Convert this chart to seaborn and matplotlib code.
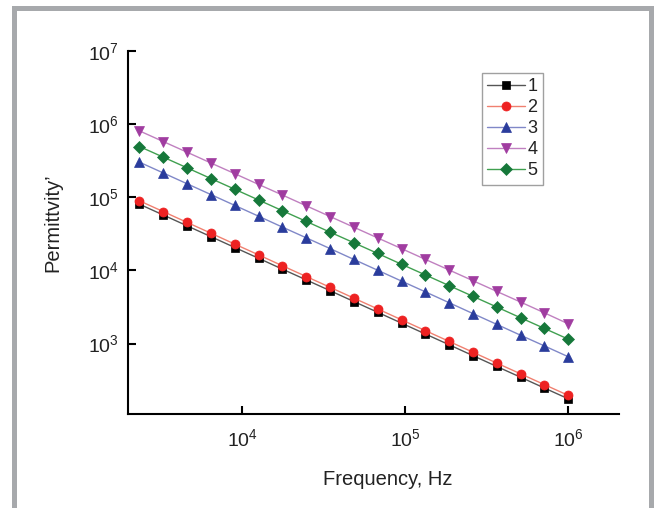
import matplotlib
matplotlib.use("Agg")
import matplotlib.pyplot as plt
import seaborn as sns
import pandas as pd
from matplotlib.patches import Rectangle
from matplotlib.ticker import NullLocator

# ---- data ----
frequency = [2340, 3280, 4590, 6430, 9000, 12600, 17600, 24700, 34600, 48400,
             67800, 94900, 133000, 186000, 260000, 364000, 510000, 714000, 1000000]
series_1 = [80000, 56900, 40500, 28800, 20500, 14600, 10400, 7400, 5270, 3750,
            2670, 1900, 1350, 962, 685, 487, 347, 247, 176]
series_2 = [89000, 63300, 45100, 32100, 22800, 16250, 11560, 8230, 5860, 4170,
            2970, 2110, 1500, 1070, 762, 542, 386, 275, 196]
series_3 = [300000, 213500, 152000, 108200, 77000, 54800, 39000, 27800, 19800, 14080,
            10020, 7130, 5080, 3610, 2570, 1830, 1300, 929, 661]
series_4 = [803000, 573000, 410000, 292000, 209000, 149000, 107000, 76100, 54300, 38800,
            27700, 19800, 14100, 10100, 7230, 5160, 3690, 2630, 1860]
series_5 = [491000, 351000, 251000, 179000, 128000, 91300, 65300, 46600, 33200, 23800,
            17000, 12100, 8650, 6180, 4420, 3160, 2250, 1610, 1150]
labels = ["1", "2", "3", "4", "5"]
x_ticks = [1e4, 1e5, 1e6]
y_ticks = [1e3, 1e4, 1e5, 1e6, 1e7]
x_label = "Frequency, Hz"
y_label = "Permittvity\u2019"

sns.set_style("ticks")
plt.rcParams["font.family"] = ["Liberation Sans", "DejaVu Sans"]
plt.rcParams["mathtext.fontset"] = "custom"
plt.rcParams["mathtext.rm"] = "Liberation Sans"
plt.rcParams["mathtext.it"] = "Liberation Sans:italic"
plt.rcParams["mathtext.bf"] = "Liberation Sans:bold"

fig = plt.figure(figsize=(6.54, 5.08), dpi=100)
ax = fig.add_axes([0.195, 0.1844, 0.7515, 0.7158])

styles = [
    dict(line="#555555", marker="s", face="#000000", size=5.5),
    dict(line="#f08070", marker="o", face="#ee2222", size=6.5),
    dict(line="#8088c8", marker="^", face="#2a3c9c", size=7),
    dict(line="#c080c0", marker="v", face="#a03ca0", size=7),
    dict(line="#40a050", marker="D", face="#16783a", size=6),
]
all_series = [series_1, series_2, series_3, series_4, series_5]
for lab, vals, st in zip(labels, all_series, styles):
    df = pd.DataFrame({"f": frequency, "p": vals})
    sns.lineplot(data=df, x="f", y="p", ax=ax, color=st["line"], linewidth=1.0,
                 marker=st["marker"], markersize=st["size"],
                 markerfacecolor=st["face"], markeredgecolor=st["face"],
                 markeredgewidth=0.5, label=lab)

ax.set_xscale("log")
ax.set_yscale("log")
ax.set_yticks(y_ticks)
ax.set_xticks(x_ticks)
ax.xaxis.set_minor_locator(NullLocator())
ax.yaxis.set_minor_locator(NullLocator())
ax.set_xlim(1976, 2.05e6)
ax.set_ylim(108, 1e7)

for s in ["top", "right"]:
    ax.spines[s].set_visible(False)
for s in ["left", "bottom"]:
    ax.spines[s].set_linewidth(1.5)
    ax.spines[s].set_color("black")
ax.tick_params(axis="both", direction="in", length=6, width=1.5, labelsize=14,
               color="black", labelcolor="#222222")
ax.tick_params(axis="x", pad=10)
ax.tick_params(axis="y", pad=6)

ax.set_xlabel(x_label, fontsize=14.5, color="#222222")
ax.set_ylabel(y_label, fontsize=14.5, color="#222222")
ax.xaxis.set_label_coords(0.529, -0.153)
ax.yaxis.set_label_coords(-0.132, 0.5275)

leg = ax.legend(loc="upper left", bbox_to_anchor=(0.7213, 0.9387), borderaxespad=0,
                fontsize=13, handlelength=2.1, handletextpad=0.1, labelspacing=0.22,
                borderpad=0.3, fancybox=False, frameon=True)
leg.get_frame().set_edgecolor("#888888")
leg.get_frame().set_linewidth(1.0)
for t in leg.get_texts():
    t.set_color("#222222")

# grey frame around the picture
W, H = 654, 508
fig.patches.append(Rectangle((13.75 / W, (H - 509.5) / H), (650.5 - 13.75) / W,
                             (509.5 - 7.5) / H, transform=fig.transFigure,
                             fill=False, edgecolor="#a7a9ac", linewidth=3.6,
                             clip_on=False))

fig.savefig("out.png", dpi=100)
